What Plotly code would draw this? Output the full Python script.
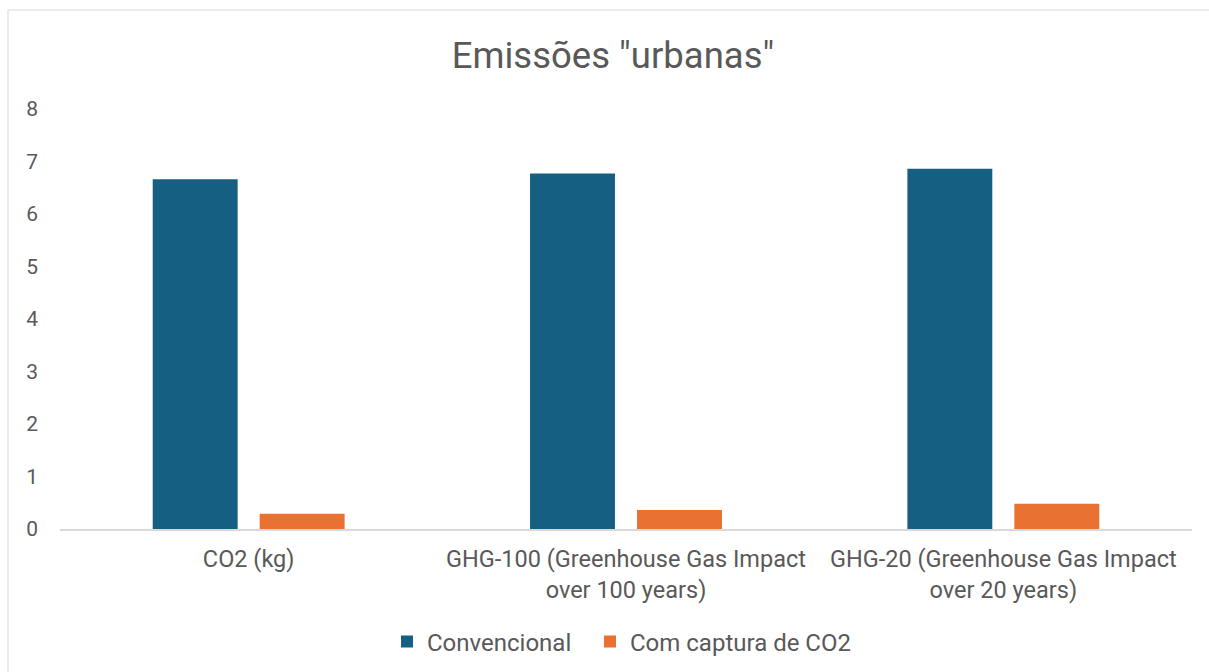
import plotly.graph_objects as go

categories = ["CO2 (kg)",
              "GHG-100 (Greenhouse Gas Impact over 100 years)",
              "GHG-20 (Greenhouse Gas Impact over 20 years)"]
tick_labels = ["CO2 (kg)",
               "GHG-100 (Greenhouse Gas Impact<br>over 100 years)",
               "GHG-20 (Greenhouse Gas Impact<br>over 20 years)"]
convencional = [6.66, 6.77, 6.86]
com_captura = [0.29, 0.36, 0.48]
y_ticks = [0, 1, 2, 3, 4, 5, 6, 7, 8]

TEXT = "#595959"
FONT = "Roboto"

fig = go.Figure()
fig.add_trace(go.Bar(name="Convencional", x=categories, y=convencional,
                     marker=dict(color="#156082", line=dict(width=0)),
                     legend="legend"))
fig.add_trace(go.Bar(name="Com captura de CO2", x=categories, y=com_captura,
                     marker=dict(color="#E97132", line=dict(width=0)),
                     legend="legend2"))

legend_style = dict(orientation="h", xanchor="left", y=-0.269, yanchor="middle",
                    font=dict(size=24, color=TEXT), itemwidth=30,
                    bgcolor="rgba(0,0,0,0)")

fig.update_layout(
    width=1209, height=672,
    margin=dict(l=60, r=17, t=109, b=143, autoexpand=False),
    paper_bgcolor="white", plot_bgcolor="white",
    barmode="group", bargap=0.433, bargroupgap=0.206,
    font=dict(family=FONT, color=TEXT, size=21),
    title=dict(text='Emissões "urbanas"', x=0.507, xanchor="center",
               y=1 - 55 / 672, yanchor="middle",
               font=dict(size=36.5, color=TEXT, family=FONT)),
    legend=dict(x=(387 - 60) / 1132, **legend_style),
    legend2=dict(x=(590 - 60) / 1132, **legend_style),
    showlegend=True,
)
fig.update_xaxes(tickmode="array", tickvals=categories, ticktext=tick_labels,
                 showgrid=False, showline=True, linecolor="#D9D9D9", linewidth=1.5,
                 ticks="", ticklabelstandoff=8,
                 tickfont=dict(size=23.5, color=TEXT))
fig.update_yaxes(range=[0, 8], tickmode="array", tickvals=y_ticks,
                 showgrid=False, zeroline=False, showline=False,
                 ticks="", ticklabelstandoff=21,
                 tickfont=dict(size=21, color=TEXT))

# light chart-area frame
fig.add_shape(type="rect", xref="paper", yref="paper",
              x0=(8 - 60) / 1132, x1=1.2, y0=-0.6, y1=(529 - 10) / 420,
              line=dict(color="#D9D9D9", width=1), fillcolor="rgba(0,0,0,0)",
              layer="below")

fig.write_html("out.html")
